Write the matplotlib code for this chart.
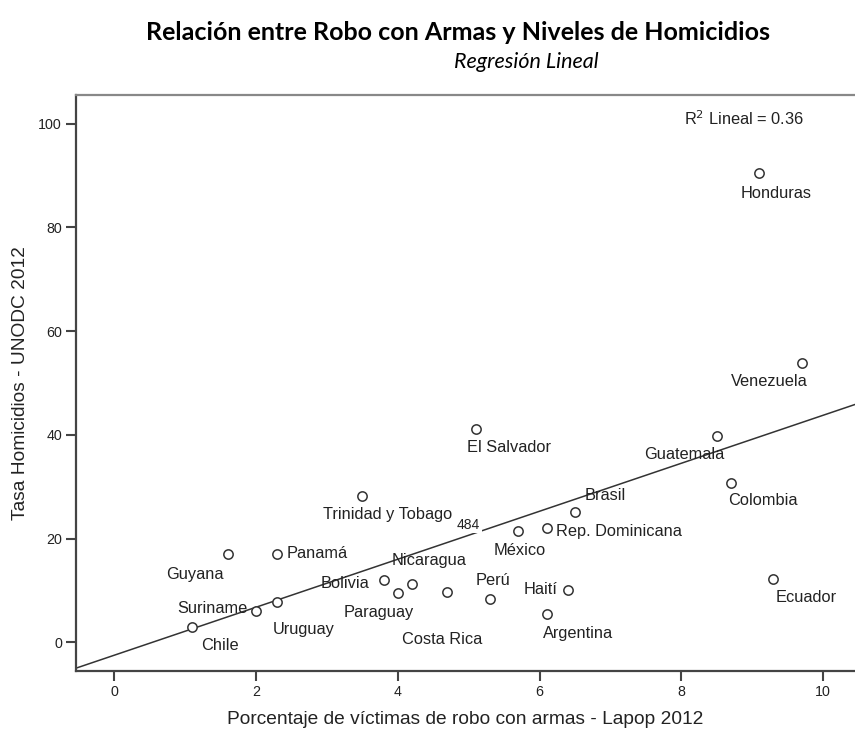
import numpy as np
import matplotlib
matplotlib.use("Agg")
import matplotlib.pyplot as plt

plt.rcParams["font.family"] = ["Liberation Sans", "DejaVu Sans"]

# ── datos ────────────────────────────────────────────────────────────
paises = [
    "Honduras", "Venezuela", "El Salvador", "Guatemala", "Colombia",
    "Brasil", "Rep. Dominicana", "México", "Ecuador", "Haití", "Perú",
    "Argentina", "Costa Rica", "Trinidad y Tobago", "Guyana", "Panamá",
    "Bolivia", "Paraguay", "Nicaragua", "Uruguay", "Suriname", "Chile",
]
robo_armas = [
    9.1, 9.7, 5.1, 8.5, 8.7,
    6.5, 6.1, 5.7, 9.3, 6.4, 5.3,
    6.1, 4.7, 3.5, 1.6, 2.3,
    3.8, 4.0, 4.2, 2.3, 2.0, 1.1,
]
homicidios = [
    90.4, 53.8, 41.1, 39.8, 30.8,
    25.1, 22.1, 21.4, 12.3, 10.2, 8.3,
    5.4, 9.7, 28.2, 17.0, 17.1,
    12.0, 9.6, 11.2, 7.8, 6.0, 3.0,
]
x_ticks = [0, 2, 4, 6, 8, 10]
y_ticks = [0, 20, 40, 60, 80, 100]

# desplazamiento de cada etiqueta (px) y alineación horizontal
OFFSETS = {
    "Honduras": (17, -20, "center"),
    "Venezuela": (-33, -18, "center"),
    "El Salvador": (33, -18, "center"),
    "Guatemala": (-33, -19, "center"),
    "Colombia": (32, -18, "center"),
    "Brasil": (30, 17, "center"),
    "Rep. Dominicana": (9, -4, "left"),
    "México": (1, -19, "center"),
    "Ecuador": (33, -19, "center"),
    "Haití": (-10, 0, "right"),
    "Perú": (3, 19, "center"),
    "Argentina": (31, -19, "center"),
    "Costa Rica": (-5, -47, "center"),
    "Trinidad y Tobago": (25, -18, "center"),
    "Guyana": (-33, -20, "center"),
    "Panamá": (9, 0, "left"),
    "Bolivia": (-14, -3, "right"),
    "Paraguay": (-19, -20, "center"),
    "Nicaragua": (17, 24, "center"),
    "Uruguay": (26, -28, "center"),
    "Suriname": (-9, 3, "right"),
    "Chile": (28, -19, "center"),
}

TXT = "#222222"
AXC = "#444444"

fig = plt.figure(figsize=(8.55, 7.31), dpi=100)
fig.patch.set_facecolor("white")
ax = fig.add_axes([76 / 855, 60 / 731, 779 / 855, 576 / 731])

ax.set_xlim(-0.54, 10.45)
ax.set_ylim(-5.5, 105.5)

# recta de regresión ajustada a los datos
m, b = np.polyfit(robo_armas, homicidios, 1)
xl = np.array(ax.get_xlim())
ax.plot(xl, m * xl + b, color="#333333", lw=1.1, zorder=2)

ax.scatter(robo_armas, homicidios, s=45, facecolors="white",
           edgecolors="#333333", linewidths=1.1, zorder=3)

for nombre, x, y in zip(paises, robo_armas, homicidios):
    dx, dy, ha = OFFSETS[nombre]
    ax.annotate(nombre, (x, y), xytext=(dx, dy), textcoords="offset pixels",
                ha=ha, va="center", fontsize=11.8, color=TXT, zorder=4)

ax.text(5.0, 22.7, "484", fontsize=10, color=TXT, ha="center", va="center",
        zorder=4, bbox=dict(facecolor="white", edgecolor="none", pad=1))

ax.text(0.935, 0.975, r"R$^2$ Lineal = 0.36", transform=ax.transAxes,
        ha="right", va="top", fontsize=11.8, color=TXT)

ax.set_xticks(x_ticks)
ax.set_yticks(y_ticks)
ax.tick_params(direction="out", length=7, width=1.5, color=AXC,
               labelsize=10.3, labelcolor=TXT, pad=3)

for side in ("left", "bottom"):
    ax.spines[side].set_color(AXC)
    ax.spines[side].set_linewidth(1.6)
ax.spines["top"].set_color("#888888")
ax.spines["top"].set_linewidth(1.6)
ax.spines["right"].set_visible(False)

ax.set_xlabel("Porcentaje de víctimas de robo con armas - Lapop 2012",
              fontsize=13.8, color=TXT, labelpad=9)
ax.set_ylabel("Tasa Homicidios - UNODC 2012", fontsize=13.8, color=TXT,
              labelpad=7)

fig.text(458 / 855, 1 - 33 / 731,
         "Relación entre Robo con Armas y Niveles de Homicidios",
         family=["Lato", "DejaVu Sans"], fontweight="bold", fontsize=18,
         ha="center", va="center", color="black")
fig.text(526 / 855, 1 - 62 / 731, "Regresión Lineal",
         family=["Lato", "DejaVu Sans"], style="italic", fontsize=15.5,
         ha="center", va="center", color="black")

fig.savefig("out.png", dpi=100, facecolor="white")
